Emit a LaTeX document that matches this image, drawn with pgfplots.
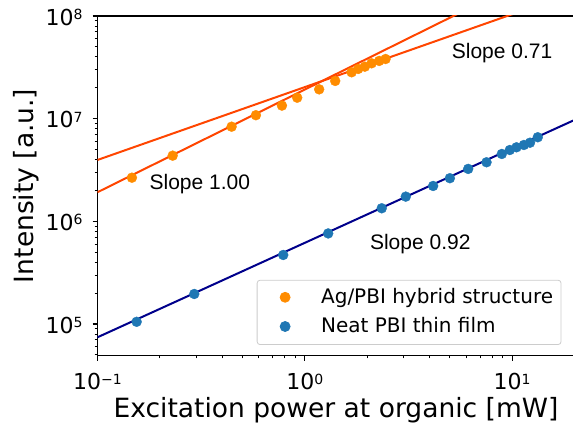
\documentclass[border=0pt]{standalone}
\usepackage{fontspec}
\setmainfont{DejaVu Sans}
\newfontfamily\slopefont{Liberation Sans}
\usepackage{pgfplots}
\pgfplotsset{compat=1.18}

\definecolor{hybridorange}{HTML}{FF8C00}
\definecolor{fitred}{HTML}{FF4500}
\definecolor{filmblue}{HTML}{1F77B4}
\definecolor{fitnavy}{HTML}{00008B}
\definecolor{legendframe}{HTML}{CCCCCC}

% power-of-ten tick label set in the text font
\newcommand{\pow}[1]{10\raisebox{5.8pt}{\fontsize{14}{16}\selectfont #1}}

\begin{document}
\begin{tikzpicture}
\begin{axis}[
  at={(0pt,0pt)}, anchor=south west,
  scale only axis, width=477pt, height=339.7pt,
  xmode=log, ymode=log,
  xmin=0.1, xmax=20, ymin=4.91e4, ymax=1e8,
  xtick={0.1,1,10}, xticklabels={\pow{−1},\pow{0},\pow{1}},
  ytick={1e5,1e6,1e7,1e8}, yticklabels={\pow{5},\pow{6},\pow{7},\pow{8}},
  minor xtick={0.2,0.3,0.4,0.5,0.6,0.7,0.8,0.9,2,3,4,5,6,7,8,9},
  minor ytick={5e4,6e4,7e4,8e4,9e4,2e5,3e5,4e5,5e5,6e5,7e5,8e5,9e5,
               2e6,3e6,4e6,5e6,6e6,7e6,8e6,9e6,2e7,3e7,4e7,5e7,6e7,7e7,8e7,9e7},
  tick align=outside, tick pos=left,
  major tick length=4.9pt, minor tick length=2.8pt,
  major tick style={black, line width=1.1pt},
  minor tick style={black, line width=0.85pt},
  axis line style={black, line width=1.1pt},
  ticklabel style={font=\fontsize{22}{26}\selectfont, inner sep=0pt},
  xticklabel style={anchor=base, yshift=-29.3pt},
  yticklabel style={anchor=base east, xshift=-9.8pt, yshift=-9.2pt},
  xlabel={Excitation power at organic [mW]},
  ylabel={Intensity [a.u.]},
  label style={font=\fontsize{26.5}{31}\selectfont, inner sep=0pt},
  xlabel style={at={(axis description cs:0.5,-0.1813)}, anchor=base},
  ylabel style={at={(axis description cs:-0.1352,0.5)}, anchor=base},
  legend cell align=left,
  legend style={at={(axis description cs:0.3338,0.0315)}, anchor=south west,
    draw=legendframe, rounded corners=3pt, line width=0.8pt,
    font=\fontsize{20}{24}\selectfont,
    inner xsep=8pt, inner ysep=8pt, row sep=10pt, column sep=16pt,
    nodes={inner sep=0pt, text height=15pt, text depth=4.2pt}},
  legend image code/.code={%
    \node[anchor=center, draw=none, fill=none, inner sep=0pt, minimum width=40pt,
      minimum height=1pt] at (20pt,0pt) {};
    \fill[#1] (20pt,0.5pt) circle (5pt);},
]
% power-law fits
\addplot[fitred, line width=2pt, forget plot] coordinates {(0.1,1.92e6) (20,3.84e8)};
\addplot[fitred, line width=2pt, forget plot] coordinates {(0.1,3.96e6) (20,1.70e8)};
\addplot[fitnavy, line width=2pt, forget plot] coordinates {(0.1,7.42e4) (20,9.71e6)};

% Ag/PBI hybrid structure
\addplot[only marks, mark=*, mark size=5pt, color=hybridorange,
  mark options={fill=hybridorange, draw=hybridorange, line width=0.3pt}] coordinates {
  (0.1466,2.66e6) (0.2305,4.36e6) (0.4436,8.35e6) (0.581,1.08e7)
  (0.776,1.34e7) (0.919,1.60e7) (1.173,1.93e7) (1.402,2.33e7)
  (1.682,2.83e7) (1.81,3.05e7) (1.949,3.21e7) (2.10,3.46e7)
  (2.285,3.65e7) (2.453,3.81e7)};
\addlegendentry{Ag/PBI hybrid structure}

% neat PBI thin film
\addplot[only marks, mark=*, mark size=5pt, color=filmblue,
  mark options={fill=filmblue, draw=filmblue, line width=0.3pt}] coordinates {
  (0.1545,1.05e5) (0.293,1.96e5) (0.787,4.70e5) (1.297,7.62e5)
  (2.35,1.34e6) (3.07,1.74e6) (4.16,2.21e6) (5.01,2.63e6)
  (6.14,3.24e6) (7.53,3.76e6) (8.92,4.53e6) (9.75,4.95e6)
  (10.5,5.26e6) (11.4,5.54e6) (12.2,5.83e6) (13.3,6.59e6)};
\addlegendentry{Neat PBI thin film}

\node[anchor=base west, inner sep=0pt, font=\slopefont\fontsize{21}{25}\selectfont]
  at (axis cs:0.178,2.02e6) {Slope 1.00};
\node[anchor=base west, inner sep=0pt, font=\slopefont\fontsize{21}{25}\selectfont]
  at (axis cs:5.11,3.87e7) {Slope 0.71};
\node[anchor=base west, inner sep=0pt, font=\slopefont\fontsize{21}{25}\selectfont]
  at (axis cs:2.06,5.26e5) {Slope 0.92};
\end{axis}
\pgfresetboundingbox
\path[use as bounding box] (-97.5pt,-72.3pt) rectangle (475.5pt,355.7pt);
\end{tikzpicture}
\end{document}
